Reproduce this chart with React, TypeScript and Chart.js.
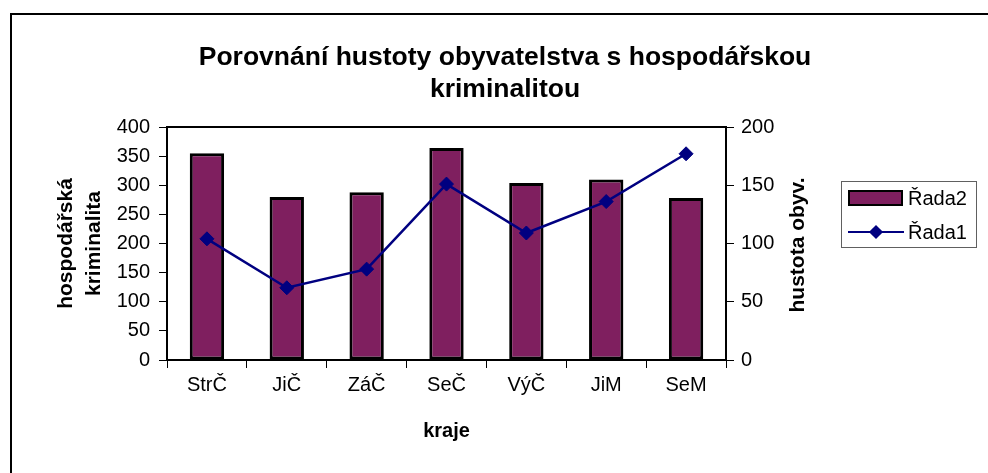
import React, { useEffect, useRef } from "react";
import { Chart, registerables } from "chart.js";

Chart.register(...registerables);

const categories = ["StrČ", "JiČ", "ZáČ", "SeČ", "VýČ", "JiM", "SeM"];
const rada2Values = [355, 280, 288, 364, 304, 310, 278];
const rada1Values = [104, 62, 78, 151, 109, 136, 177];
const titleLines = ["Porovnání hustoty obyvatelstva s hospodářskou", "kriminalitou"];
const leftAxisTitle = ["hospodářská", "kriminalita"];
const rightAxisTitle = "hustota obyv.";
const xAxisTitle = "kraje";
const rada2Label = "Řada2";
const rada1Label = "Řada1";
const leftMin = 0;
const leftMax = 400;
const leftStep = 50;
const rightMin = 0;
const rightMax = 200;
const rightStep = 50;

const FONT = '"Liberation Sans", Arial, sans-serif';
const PLUM = "#7F1F5F";
const NAVY = "#000080";

const frameBorderPlugin = {
  id: "frameBorder",
  afterDatasetsDraw(chart: any) {
    const { ctx, chartArea } = chart;
    ctx.save();
    ctx.strokeStyle = "#000";
    ctx.lineWidth = 2;
    ctx.strokeRect(chartArea.left, chartArea.top, chartArea.right - chartArea.left, chartArea.bottom - chartArea.top);
    ctx.restore();
  },
};

export default function App() {
  const canvasRef = useRef<HTMLCanvasElement | null>(null);

  useEffect(() => {
    const canvas = canvasRef.current;
    if (!canvas) return;
    const chart = new Chart(canvas, {
      type: "bar",
      data: {
        labels: categories,
        datasets: [
          {
            type: "line",
            label: rada1Label,
            data: rada1Values,
            borderColor: NAVY,
            backgroundColor: NAVY,
            borderWidth: 2.5,
            pointStyle: "rectRot",
            pointRadius: 7,
            pointBackgroundColor: NAVY,
            pointBorderColor: NAVY,
            pointBorderWidth: 1,
            tension: 0,
            yAxisID: "y1",
            order: 1,
          } as any,
          {
            type: "bar",
            label: rada2Label,
            data: rada2Values,
            backgroundColor: PLUM,
            borderColor: "#000",
            borderWidth: 3,
            borderSkipped: false,
            barPercentage: 0.43,
            categoryPercentage: 1,
            yAxisID: "y",
            order: 2,
          } as any,
        ],
      },
      options: {
        responsive: false,
        animation: false,
        devicePixelRatio: 1,
        layout: { padding: { left: 22, right: 0, top: 0, bottom: 0 } },
        plugins: {
          legend: { display: false },
          tooltip: { enabled: false },
          title: {
            display: true,
            text: titleLines,
            color: "#000",
            font: { family: FONT, size: 26.5, weight: "bold", lineHeight: 32 / 26.5 },
            padding: { top: 42, bottom: 21 },
          },
        },
        scales: {
          x: {
            grid: {
              display: true,
              drawOnChartArea: false,
              drawTicks: true,
              tickLength: 8,
              color: "#000",
              offset: true,
            },
            border: { display: true, color: "#000", width: 2 },
            ticks: {
              color: "#000",
              font: { family: FONT, size: 20 },
              padding: 5,
              maxRotation: 0,
              autoSkip: false,
            },
            title: {
              display: true,
              text: xAxisTitle,
              color: "#000",
              font: { family: FONT, size: 20, weight: "bold", lineHeight: 1.2 },
              padding: { top: 0, bottom: 30 },
            },
            afterFit: (s: any) => {
              s.height = 113;
            },
          },
          y: {
            position: "left",
            min: leftMin,
            max: leftMax,
            grid: { drawOnChartArea: false, drawTicks: true, tickLength: 8, color: "#000" },
            border: { display: true, color: "#000", width: 2 },
            ticks: {
              stepSize: leftStep,
              color: "#000",
              font: { family: FONT, size: 20 },
              padding: 9,
            },
            title: {
              display: true,
              text: leftAxisTitle,
              color: "#000",
              font: { family: FONT, size: 21, weight: "bold", lineHeight: 28 / 21 },
              padding: { top: 30, bottom: 0 },
            },
            afterFit: (s: any) => {
              s.width = 145;
            },
          },
          y1: {
            position: "right",
            min: rightMin,
            max: rightMax,
            grid: { drawOnChartArea: false, drawTicks: true, tickLength: 8, color: "#000" },
            border: { display: true, color: "#000", width: 2 },
            ticks: {
              stepSize: rightStep,
              color: "#000",
              font: { family: FONT, size: 20 },
              padding: 7,
            },
            afterFit: (s: any) => {
              s.width = 262;
            },
          },
        },
      } as any,
      plugins: [frameBorderPlugin],
    });
    return () => chart.destroy();
  }, []);

  return (
    <div
      style={{
        position: "absolute",
        left: 0,
        top: 0,
        width: 988,
        height: 473,
        background: "#fff",
        overflow: "hidden",
        fontFamily: FONT,
      }}
    >
      <canvas ref={canvasRef} width={988} height={473} style={{ position: "absolute", left: 0, top: 0, width: 988, height: 473 }} />
      <div
        style={{
          position: "absolute",
          left: 10,
          top: 13,
          width: 1000,
          height: 500,
          borderTop: "2px solid #000",
          borderLeft: "2px solid #000",
          pointerEvents: "none",
        }}
      />
      <div
        style={{
          position: "absolute",
          left: 797,
          top: 245,
          transform: "translate(-50%, -50%) rotate(-90deg)",
          whiteSpace: "nowrap",
          fontWeight: "bold",
          fontSize: 21,
          color: "#000",
          lineHeight: "24px",
        }}
      >
        {rightAxisTitle}
      </div>
      <div
        style={{
          position: "absolute",
          left: 841,
          top: 181,
          width: 134,
          height: 65,
          border: "1px solid #606060",
          background: "#fff",
          fontSize: 20,
          color: "#000",
        }}
      >
        <div
          style={{
            position: "absolute",
            left: 6,
            top: 8,
            width: 51,
            height: 12,
            background: PLUM,
            border: "2.5px solid #000",
          }}
        />
        <div style={{ position: "absolute", left: 66, top: 4, lineHeight: "24px", whiteSpace: "nowrap" }}>{rada2Label}</div>
        <div style={{ position: "absolute", left: 6, top: 49, width: 56, height: 2, background: NAVY }} />
        <div
          style={{
            position: "absolute",
            left: 29,
            top: 45,
            width: 10,
            height: 10,
            background: NAVY,
            transform: "rotate(45deg)",
          }}
        />
        <div style={{ position: "absolute", left: 66, top: 38, lineHeight: "24px", whiteSpace: "nowrap" }}>{rada1Label}</div>
      </div>
    </div>
  );
}
